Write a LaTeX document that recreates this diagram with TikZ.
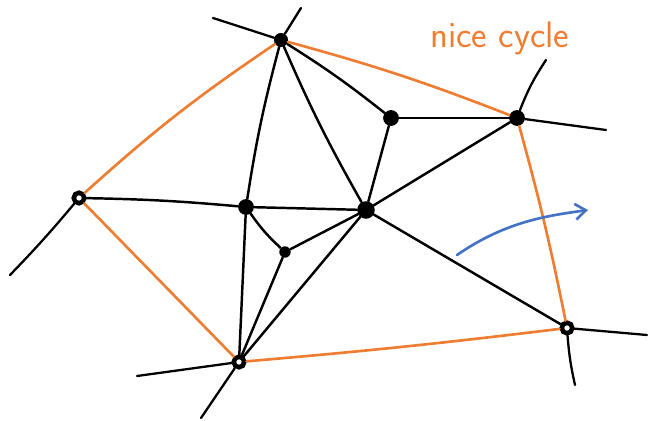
\documentclass[tikz,border=0pt]{standalone}
\usepackage{xcolor}
\usetikzlibrary{arrows.meta}

\definecolor{cycleorange}{RGB}{239,125,49}
\definecolor{arrowblue}{RGB}{68,114,196}

\begin{document}
\begin{tikzpicture}[
    x=0.02cm, y=-0.02cm,
    >={Straight Barb[length=6pt, width=9pt]},
    dot/.style={circle, fill=black, inner sep=0pt, minimum size=#1},
    dot/.default=8pt,
    ring/.style={circle, draw=black, line width=2.6pt, fill=white, inner sep=0pt, minimum size=6pt},
    edge/.style={draw=black, line width=1.4pt, line cap=round},
    stub/.style={draw=black, line width=1.3pt, line cap=round},
    cyc/.style={draw=cycleorange, line width=1.5pt, line cap=round},
]
\useasboundingbox (0,0) rectangle (651,421);

% ── Vertices ──
\node[dot] (top) at (281,40) {};
\node[dot=9pt] (inner) at (391,118) {};
\node[dot=9pt] (right) at (517,118) {};
\node[ring] (left) at (79,198) {};
\node[dot=9pt] (mid) at (246,207) {};
\node[dot=10pt] (hub) at (366,210) {};
\node[dot=6.5pt] (small) at (285,252) {};
\node[ring] (lowright) at (567,328) {};
\node[ring] (bottom) at (239,362) {};

% ── Loose ends ──
\coordinate (topA) at (213,18);
\coordinate (topB) at (301,8);
\coordinate (rightA) at (546,60);
\coordinate (rightB) at (606,130);
\coordinate (leftA) at (10,275);
\coordinate (lowA) at (647,335);
\coordinate (lowB) at (575,385);
\coordinate (botA) at (137,376);
\coordinate (botB) at (201,418);

% ── Black edges ──
\draw[edge] (top) to[bend right=3] (mid);
\draw[edge] (top) to[bend left=3] (inner);
\draw[edge] (top) to[bend right=3] (hub);
\draw[edge] (inner) -- (right);
\draw[edge] (inner) -- (hub);
\draw[edge] (hub) -- (right);
\draw[edge] (left) to[bend left=2] (mid);
\draw[edge] (mid) -- (hub);
\draw[edge] (mid) to[bend right=6] (small);
\draw[edge] (mid) -- (bottom);
\draw[edge] (small) -- (hub);
\draw[edge] (small) -- (bottom);
\draw[edge] (hub) -- (bottom);
\draw[edge] (hub) -- (lowright);

% ── Stubs ──
\draw[stub] (top) -- (topA);
\draw[stub] (top) -- (topB);
\draw[stub] (right) to[bend left=6] (rightA);
\draw[stub] (right) -- (rightB);
\draw[stub] (left) to[bend left=2] (leftA);
\draw[stub] (lowright) -- (lowA);
\draw[stub] (lowright) to[bend right=4] (lowB);
\draw[stub] (bottom) -- (botA);
\draw[stub] (bottom) -- (botB);

% ── Nice cycle ──
\draw[cyc] (top) to[bend left=3] (right);
\draw[cyc] (right) to[bend left=2] (lowright);
\draw[cyc] (lowright) to[bend left=1] (bottom);
\draw[cyc] (bottom) -- (left);
\draw[cyc] (left) to[bend left=4] (top);

\node[text=cycleorange, font=\sffamily\fontsize{21}{24}\selectfont, anchor=base west] (label) at (424,48) {nice cycle};

% ── Arrow ──
\coordinate (arrstart) at (457,255);
\coordinate (arrend) at (588,210);
\draw[->, arrowblue, line width=1.5pt, line cap=round] (arrstart) .. controls (505,222) and (545,216) .. (arrend);

\end{tikzpicture}
\end{document}
